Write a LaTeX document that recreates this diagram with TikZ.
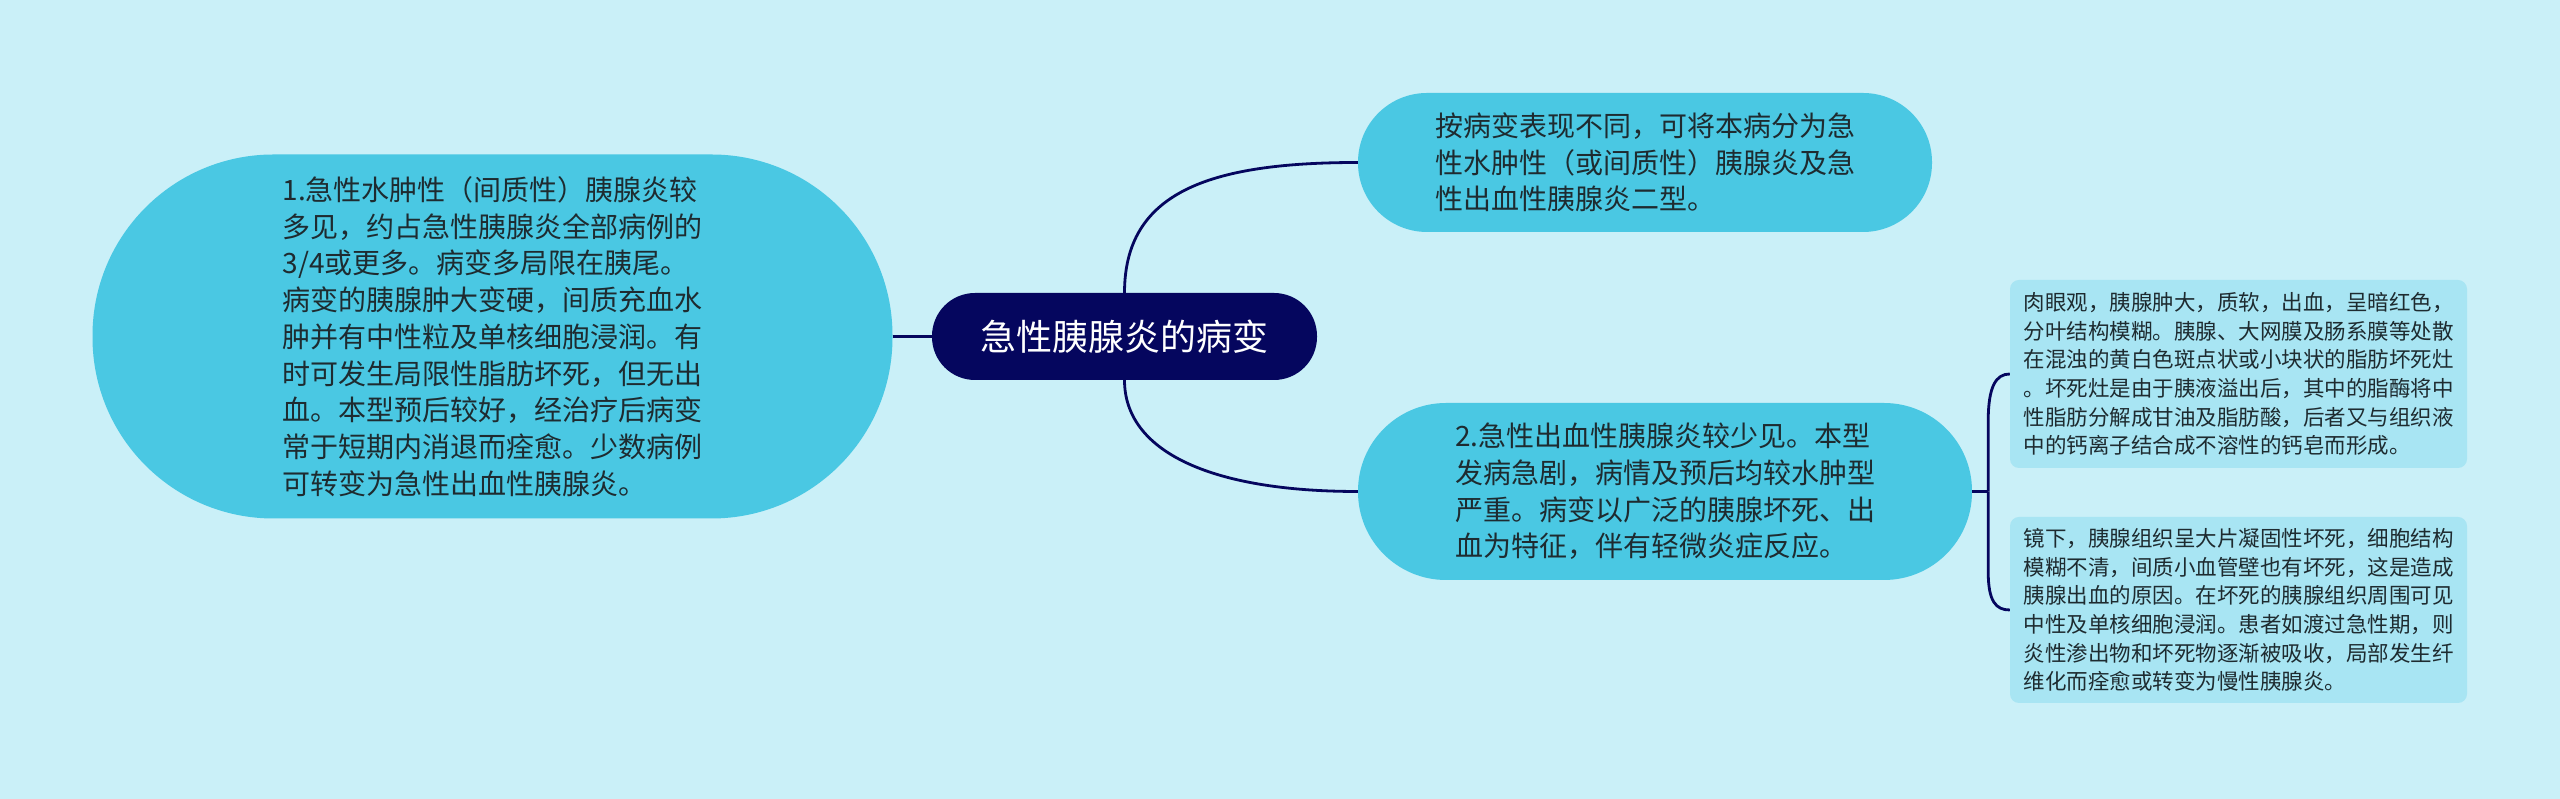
\documentclass[tikz,border=0pt]{standalone}
\usepackage{fontspec}
\newfontfamily\cjk{Noto Sans CJK SC}
\definecolor{bgblue}{RGB}{202,240,248}
\definecolor{topicblue}{RGB}{74,200,227}
\definecolor{detailblue}{RGB}{168,229,243}
\definecolor{navy}{RGB}{5,6,94}
\definecolor{textgray}{RGB}{30,43,48}

\begin{document}
\begin{tikzpicture}[
		root/.style={fill=navy, text=white, rounded corners=43pt, minimum width=385pt,
			minimum height=87pt, inner sep=0pt, font=\cjk\fontsize{36}{44}\selectfont},
		topic/.style={fill=topicblue, text=textgray, inner sep=0pt, align=left,
			font=\cjk\fontsize{28}{36.7}\selectfont},
		detail/.style={fill=detailblue, text=textgray, rounded corners=9pt, minimum width=457pt,
			inner sep=0pt, align=left, font=\cjk\fontsize{21.5}{28.6}\selectfont},
		link/.style={draw=navy, line width=2.8pt}
	]

	\fill[bgblue] (0pt,0pt) rectangle (2560pt,799pt);
	\useasboundingbox (0pt,0pt) rectangle (2560pt,799pt);

	\node[root] at (1124.5pt, 462.5pt) (root) {急性胰腺炎的病变};

	\node[topic, minimum width=800pt, minimum height=364pt, rounded corners=181pt]
		at (492.5pt, 462.5pt) (left) {1.急性水肿性（间质性）胰腺炎较\\多见，约占急性胰腺炎全部病例的\\3/4或更多。病变多局限在胰尾。\\病变的胰腺肿大变硬，间质充血水\\肿并有中性粒及单核细胞浸润。有\\时可发生局限性脂肪坏死，但无出\\血。本型预后较好，经治疗后病变\\常于短期内消退而痊愈。少数病例\\可转变为急性出血性胰腺炎。};
	\node[topic, minimum width=574pt, minimum height=139pt, rounded corners=69pt]
		at (1645pt, 636.5pt) (types) {按病变表现不同，可将本病分为急\\性水肿性（或间质性）胰腺炎及急\\性出血性胰腺炎二型。};
	\node[topic, minimum width=614pt, minimum height=177pt, rounded corners=88pt]
		at (1665pt, 307.5pt) (hemo) {2.急性出血性胰腺炎较少见。本型\\发病急剧，病情及预后均较水肿型\\严重。病变以广泛的胰腺坏死、出\\血为特征，伴有轻微炎症反应。};

	\node[detail, minimum height=188pt] at (2238.5pt, 425pt) (gross) {肉眼观，胰腺肿大，质软，出血，呈暗红色，\\分叶结构模糊。胰腺、大网膜及肠系膜等处散\\在混浊的黄白色斑点状或小块状的脂肪坏死灶\\。坏死灶是由于胰液溢出后，其中的脂酶将中\\性脂肪分解成甘油及脂肪酸，后者又与组织液\\中的钙离子结合成不溶性的钙皂而形成。};
	\node[detail, minimum height=186pt] at (2238.5pt, 189pt) (micro) {镜下，胰腺组织呈大片凝固性坏死，细胞结构\\模糊不清，间质小血管壁也有坏死，这是造成\\胰腺出血的原因。在坏死的胰腺组织周围可见\\中性及单核细胞浸润。患者如渡过急性期，则\\炎性渗出物和坏死物逐渐被吸收，局部发生纤\\维化而痊愈或转变为慢性胰腺炎。};

	\draw[link] (left) -- (root);
	\draw[link] (root.north) .. controls +(0pt,100pt) and +(-150pt,0pt) .. (types.west);
	\draw[link] (root.south) .. controls +(0pt,-70pt) and +(-150pt,0pt) .. (hemo.west);

	\coordinate (brace) at ([xshift=16pt]hemo.east);
	\draw[link] (hemo.east) -- (brace);
	\draw[link] (brace) -- ++(0pt,70pt) .. controls +(0pt,35pt) and +(-14pt,0pt) .. (gross.west);
	\draw[link] (brace) -- ++(0pt,-80pt) .. controls +(0pt,-30pt) and +(-14pt,0pt) .. (micro.west);

\end{tikzpicture}
\end{document}
